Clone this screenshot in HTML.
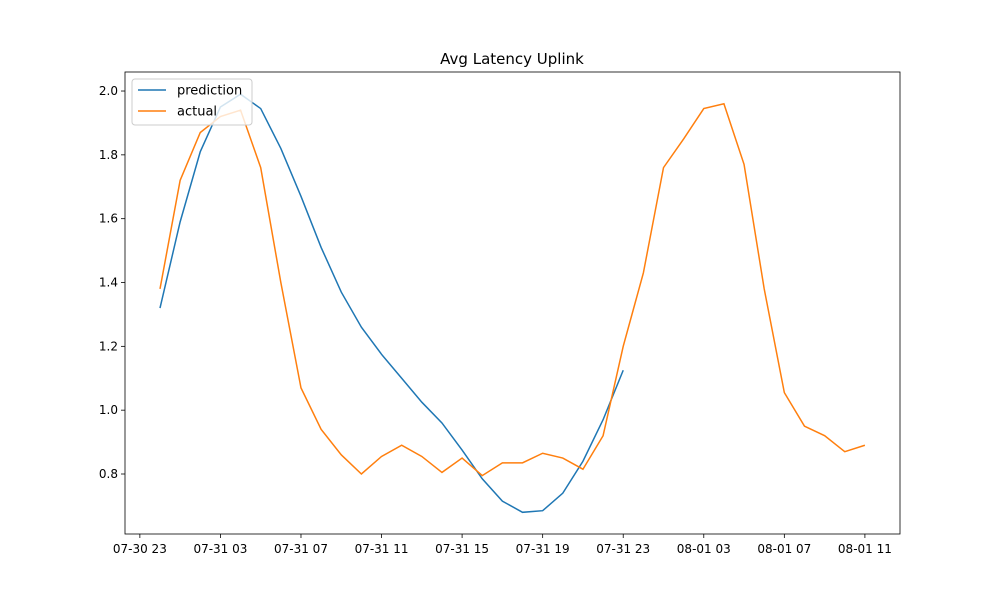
<!DOCTYPE html>
<html><head><meta charset="utf-8"><style>
body{margin:0;background:#fff;font-family:"Liberation Sans","DejaVu Sans",sans-serif;overflow:hidden}
</style></head><body>
<svg id="chart" width="1000" height="600" xmlns="http://www.w3.org/2000/svg" font-family="DejaVu Sans, Liberation Sans, sans-serif">
<rect width="1000" height="600" fill="#fff"/>
<text x="512" y="64" text-anchor="middle" font-size="15">Avg Latency Uplink</text>
<g id="plot"></g>
</svg>
<script>
const xTickLabels=["07-30 23","07-31 03","07-31 07","07-31 11","07-31 15","07-31 19","07-31 23","08-01 03","08-01 07","08-01 11"];
const xTickHours=[-1,3,7,11,15,19,23,27,31,35];
const yTicks=[0.8,1.0,1.2,1.4,1.6,1.8,2.0];
const actual=[1.38,1.72,1.87,1.92,1.94,1.76,1.40,1.07,0.94,0.86,0.80,0.855,0.89,0.855,0.805,0.85,0.795,0.835,0.835,0.865,0.85,0.815,0.92,1.20,1.43,1.76,1.85,1.945,1.96,1.77,1.38,1.055,0.95,0.92,0.87,0.89];
const prediction=[1.32,1.59,1.81,1.95,1.99,1.945,1.82,1.67,1.51,1.37,1.26,1.175,1.10,1.025,0.96,0.875,0.785,0.715,0.68,0.685,0.74,0.84,0.97,1.125];
const L=125,R=900,T=72,B=534;
const x=h=>160+h*20.14;
const y=v=>474-(v-0.8)*319.15;
const NS="http://www.w3.org/2000/svg";
const g=document.getElementById('plot');
function mk(t,a){const e=document.createElementNS(NS,t);for(const k in a)e.setAttribute(k,a[k]);g.appendChild(e);return e;}
function line(arr,color,name){
 const p=mk('polyline',{points:arr.map((v,i)=>x(i)+','+y(v)).join(' '),fill:'none',stroke:color,'stroke-width':1.5});
 
 
}
line(prediction,'#1f77b4','prediction-line');
line(actual,'#ff7f0e','actual-line');
const fr=mk('rect',{x:L,y:T,width:R-L,height:B-T,fill:'none',stroke:'#000','stroke-width':0.8});


xTickHours.forEach((h,i)=>{
 mk('line',{x1:x(h),x2:x(h),y1:B,y2:B+4,stroke:'#000','stroke-width':0.8});
 const t=mk('text',{x:x(h),y:B+19,'text-anchor':'middle','font-size':12});
 t.textContent=xTickLabels[i];
 
 
});
yTicks.forEach(v=>{
 mk('line',{x1:L-4,x2:L,y1:y(v),y2:y(v),stroke:'#000','stroke-width':0.8});
 const t=mk('text',{x:L-7,y:y(v)+4,'text-anchor':'end','font-size':12});
 t.textContent=v.toFixed(1);
 
 
});
const lg=mk('rect',{x:132,y:79,width:120,height:46,rx:3,fill:'#fff','fill-opacity':0.8,stroke:'#ccc'});


[['prediction','#1f77b4',90],['actual','#ff7f0e',111]].forEach(([n,c,yy])=>{
 mk('line',{x1:138,x2:166,y1:yy,y2:yy,stroke:c,'stroke-width':1.5});
 const t=mk('text',{x:177,y:yy+4.5,'font-size':13});
 t.textContent=n;
 
 
});
</script>
</body></html>
